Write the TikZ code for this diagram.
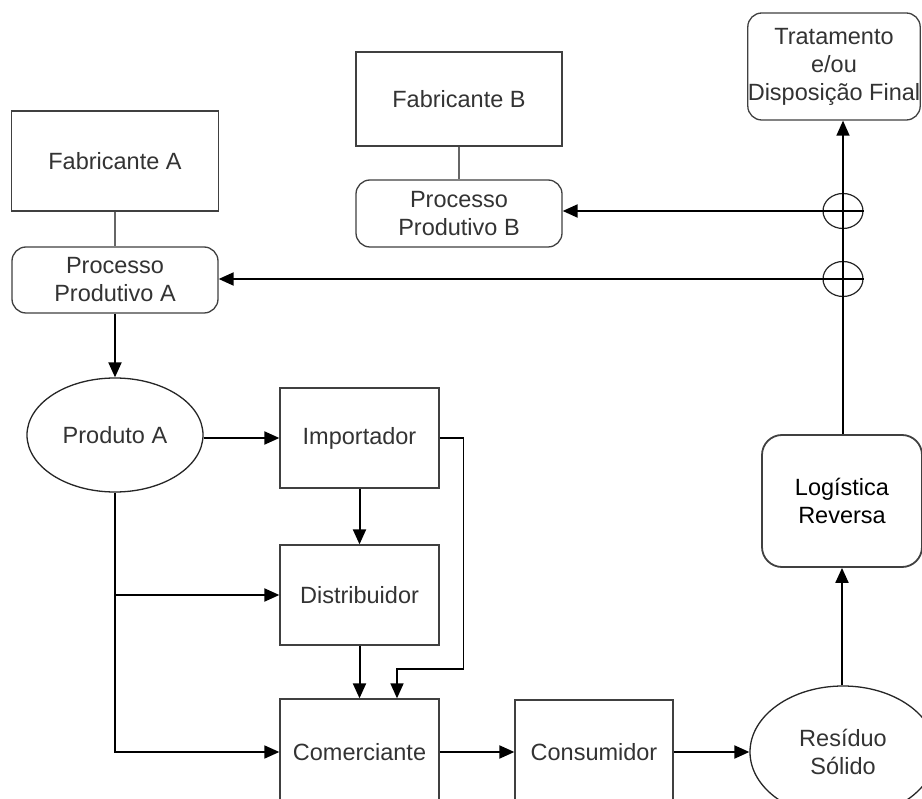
\documentclass[tikz,border=0pt]{standalone}
\usepackage{fontspec}
\setmainfont{Liberation Sans}
\usetikzlibrary{shapes,arrows.meta,positioning}

\begin{document}
\begin{tikzpicture}[x=1pt,y=-1pt,
    every node/.style={font=\fontsize{23.5}{28}\selectfont, text=black!80, align=center, inner sep=0pt},
    box/.style={draw=black!75, line width=1.3pt, rectangle},
    rbox/.style={box, rounded corners=14pt},
    oval/.style={draw=black!85, line width=1.3pt, ellipse},
    junction/.style={draw=black!85, line width=1.2pt, ellipse, minimum width=40pt, minimum height=35pt},
    arr/.style={-{Triangle[length=15pt,width=13pt]}, line width=2pt},
    link/.style={draw=black!60, line width=1.3pt}]
    \fill[white] (0,0) rectangle (922,799);
    \useasboundingbox (0,0) rectangle (922,799);

    % Manufacturers and their production processes
    \node[box, minimum width=207pt, minimum height=100pt] (fabA) at (115,161) {Fabricante A};
    \node[rbox, minimum width=206pt, minimum height=66pt] (procA) at (115,280) {Processo\\Produtivo A};
    \node[box, minimum width=206pt, minimum height=94pt] (fabB) at (459,99) {Fabricante B};
    \node[rbox, minimum width=206pt, minimum height=67pt] (procB) at (459,213.5) {Processo\\Produtivo B};
    \node[rbox, minimum width=172pt, minimum height=107pt] (trat) at (834,66.5) {Tratamento\\e/ou\\Disposição Final};

    % Supply chain
    \node[oval, minimum width=176pt, minimum height=114pt] (prodA) at (115,435) {Produto A};
    \node[box, minimum width=159pt, minimum height=100pt] (imp) at (359.5,438) {Importador};
    \node[box, minimum width=159pt, minimum height=100pt] (dist) at (359.5,595) {Distribuidor};
    \node[box, minimum width=159pt, minimum height=106pt] (com) at (359.5,752) {Comerciante};
    \node[box, minimum width=158pt, minimum height=104pt] (cons) at (594,752) {Consumidor};
    \node[oval, minimum width=186pt, minimum height=132pt] (res) at (843,752) {Resíduo\\Sólido};
    \node[rbox, rounded corners=20pt, line width=1.8pt, minimum width=160pt, minimum height=132pt, text=black] (log) at (842,501) {Logística\\Reversa};

    % Return points
    \node[junction] (j1) at (843,211) {};
    \node[junction] (j2) at (843,279) {};

    \draw[link] (fabA) -- (procA);
    \draw[link] (fabB) -- (procB);
    \draw[arr] (procA) -- (prodA);
    \draw[arr] (prodA.east |- imp) -- (imp.west);
    \draw[arr] (imp) -- (dist);
    \draw[arr] (dist) -- (com);
    \coordinate (bend) at (397,669);
    \draw[arr, line width=1.6pt] (imp.east) -- ++(24,0) |- (bend) -- (bend |- com.north);
    \draw[arr, line width=1.6pt] (prodA.south) |- (com.west);
    \draw[arr] (prodA.south |- dist.west) -- (dist.west);
    \draw[arr] (com) -- (cons);
    \draw[arr] (cons) -- (res);
    \draw[arr] (res.north -| log) -- (log.south);

    % Reverse flow back to the start
    \draw[arr, line width=1.4pt] (log.north -| j1) -- (j1 |- trat.south);
    \draw[line width=1.2pt] (j1.west) -- (j1.east);
    \draw[line width=1.2pt] (j2.west) -- (j2.east);
    \draw[arr] (j1.west) -- (procB.east |- j1);
    \draw[arr] (j2.west) -- (procA.east |- j2);
\end{tikzpicture}
\end{document}
